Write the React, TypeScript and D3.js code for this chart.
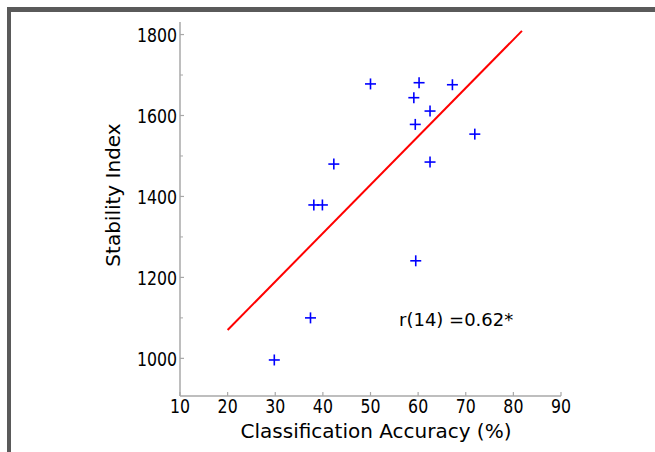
import React from 'react';
import * as d3 from 'd3';

// classification accuracy (%) vs stability index, one point per subject
const accuracy = [50.0, 60.2, 67.2, 59.1, 62.5, 59.4, 71.9, 62.5, 42.3, 38.1, 39.9, 59.5, 37.4, 29.8];
const stability = [1678, 1681, 1676, 1644, 1611, 1578, 1554, 1485, 1480, 1379, 1379, 1241, 1100, 996];

// regression line end points
const fitX = [20, 81.8];
const fitY = [1070, 1809];

const xTicks = [10, 20, 30, 40, 50, 60, 70, 80, 90];
const yTicks = [1000, 1200, 1400, 1600, 1800];
const yMinorTicks = [1100, 1300, 1500, 1700];

const font = '"DejaVu Sans", sans-serif';
const axisColor = '#a8a8a8';

const App: React.FC = () => {
  const x = d3.scaleLinear().domain([10, 90]).range([180, 561]);
  const y = d3.scaleLinear().domain([907, 1831]).range([396, 22]);

  const line = d3.line<number>()
    .x(i => x(fitX[i]))
    .y(i => y(fitY[i]));

  const cross = 5.5;

  return (
    <svg width={655} height={452} style={{ position: 'absolute', left: 0, top: 0, background: '#fff' }}>
      {/* screenshot frame */}
      <rect x={7} y={7} width={648} height={5} fill="#5a5a5a" />
      <rect x={7} y={7} width={4} height={445} fill="#5a5a5a" />

      {/* axes */}
      <line x1={x(10)} x2={x(10)} y1={y(1831)} y2={y(907)} stroke={axisColor} strokeWidth={1.5} />
      <line x1={x(10)} x2={x(90)} y1={y(907)} y2={y(907)} stroke={axisColor} strokeWidth={1.5} />

      {yTicks.map(t => (
        <g key={t}>
          <line x1={x(10)} x2={x(10) + 4} y1={y(t)} y2={y(t)} stroke={axisColor} strokeWidth={1.2} />
          <g transform={`translate(177,${y(t) + 7.5}) scale(0.83,1)`}>
            <text textAnchor="end" fontFamily={font} fontSize={19} fill="#000">{t}</text>
          </g>
        </g>
      ))}
      {yMinorTicks.map(t => (
        <line key={t} x1={x(10)} x2={x(10) + 3} y1={y(t)} y2={y(t)} stroke={axisColor} strokeWidth={1} />
      ))}
      {xTicks.map(t => (
        <g key={t}>
          <line x1={x(t)} x2={x(t)} y1={y(907)} y2={y(907) - 4} stroke={axisColor} strokeWidth={1.2} />
          <g transform={`translate(${x(t)},413) scale(0.83,1)`}>
            <text textAnchor="middle" fontFamily={font} fontSize={19} fill="#000">{t}</text>
          </g>
        </g>
      ))}

      {/* fit line */}
      <path d={line([0, 1]) ?? ''} fill="none" stroke="#ff0000" strokeWidth={2} />

      {/* points */}
      {accuracy.map((a, i) => (
        <g key={i} stroke="#0000ff" strokeWidth={1.6}>
          <line x1={x(a) - cross} x2={x(a) + cross} y1={y(stability[i])} y2={y(stability[i])} />
          <line x1={x(a)} x2={x(a)} y1={y(stability[i]) - cross} y2={y(stability[i]) + cross} />
        </g>
      ))}

      <text x={399} y={326} fontFamily={font} fontSize={18} fill="#000">r(14) =0.62*</text>

      <text x={376} y={438} textAnchor="middle" fontFamily={font} fontSize={20} fill="#000">
        Classification Accuracy (%)
      </text>
      <text transform="translate(120,195) rotate(-90)" textAnchor="middle" fontFamily={font} fontSize={20} fill="#000">
        Stability Index
      </text>
    </svg>
  );
};

export default App;
